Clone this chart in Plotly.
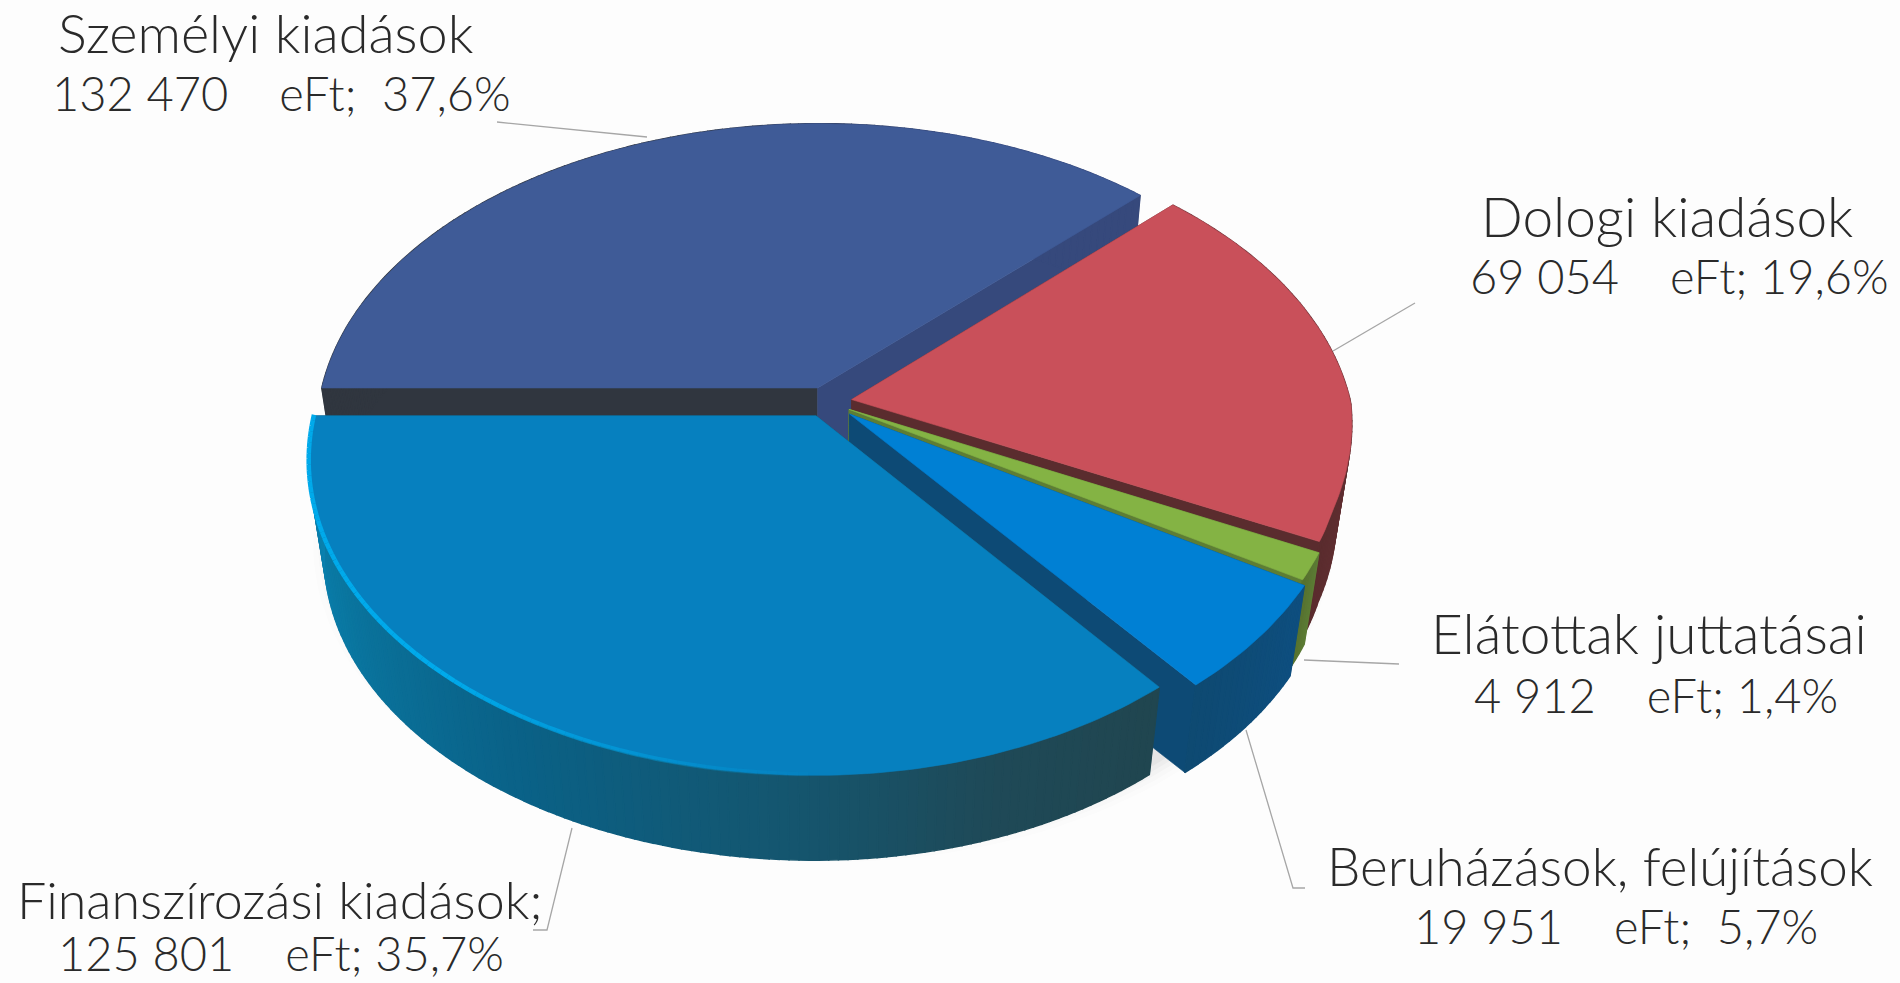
import numpy as np
import plotly.graph_objects as go

# ---- data ----
categories = ["Személyi kiadások", "Dologi kiadások", "Elátottak juttatásai",
              "Beruházások, felújítások", "Finanszírozási kiadások;"]
values = [132470, 69054, 4912, 19951, 125801]
value_labels = ["132 470", "69 054", "4 912", "19 951", "125 801"]
percent_labels = ["37,6%", "19,6%", "1,4%", "5,7%", "35,7%"]
percent_gaps = ["\u00a0\u00a0", "\u00a0", "\u00a0", "\u00a0\u00a0", "\u00a0"]

# ---- styles ----
top_colors = ["#3f5b97", "#c9505a", "#84b344", "#0080d4", "#0680bf"]
cut_colors = [("#36497c", "#30363f"), ("#5a2c2e", "#5a2c2e"), ("#5d7d35", "#5d7d35"),
              ("#0d4a75", "#0d4a75"), ("#1f4a58", "#1f4a58")]
outer_stops = [
    [(0, "#30363f"), (0.5, "#30363f"), (0.8, "#36497c"), (1, "#36497c")],
    [(0, "#7a3a40"), (1, "#5a2c2e")],
    [(0, "#5d7d35"), (1, "#56702f")],
    [(0, "#0f4f80"), (1, "#0e4a72")],
    [(0, "#214650"), (0.16, "#1f4a58"), (0.32, "#15566f"), (0.55, "#0a6288"), (0.8, "#0a78a2"), (1, "#0b84b4")],
]
explode = [0.05, 0.05, 0.05, 0.06, 0.05]

# ---- projection of the tilted disc ----
CX, CY, RX, RY, K = 827, 402, 499, 305, 0.14
DEPTH, SHRINK = 96, 0.97
START = 180.0


def project(u, v, bottom=False):
    u, v = np.asarray(u, float), np.asarray(v, float)
    d = 1 + K * v
    dx, dy = RX * u / d, -RY * v / d
    # the scan is slightly narrower towards the lower right
    dx = dx * (1 - 0.022 * (u > 0) * np.clip(-v * 3, 0, 1))
    if bottom:
        return CX + SHRINK * dx, CY + DEPTH + SHRINK * dy
    return CX + dx, CY + dy


def hex2rgb(h):
    return np.array([int(h[i:i + 2], 16) for i in (1, 3, 5)], float)


def ramp(stops, f):
    for (a, ca), (b, cb) in zip(stops[:-1], stops[1:]):
        if f <= b:
            c = hex2rgb(ca) + (hex2rgb(cb) - hex2rgb(ca)) * (f - a) / max(b - a, 1e-6)
            return "rgb(%d,%d,%d)" % tuple(c)
    return stops[-1][1]


fig = go.Figure()


def poly(x, y, color, lw=0.6):
    fig.add_trace(go.Scatter(x=list(x), y=list(y), mode="lines", fill="toself", fillcolor=color,
                             line=dict(color=color, width=lw), hoverinfo="skip", showlegend=False))


# soft shadow under the pie
th = np.radians(np.linspace(0, 360, 181))
for grow, a in [(1.05, 0.012), (1.04, 0.016), (1.03, 0.022), (1.02, 0.03), (1.01, 0.04)]:
    sx, sy = project(grow * np.cos(th), grow * np.sin(th), bottom=True)
    poly(sx, sy, "rgba(60,60,60,%g)" % a, lw=0)

total = sum(values)
angle = START
for i, val in enumerate(values):
    sweep = 360.0 * val / total
    a0, a1 = angle, angle - sweep          # clockwise on screen
    angle = a1
    mid = np.radians((a0 + a1) / 2)
    ou, ov = explode[i] * np.cos(mid), explode[i] * np.sin(mid)
    t = np.radians(np.linspace(a0, a1, max(int(sweep), 3) + 1))
    u, v = ou + np.cos(t), ov + np.sin(t)

    # cut faces
    ax_t, ay_t = project(ou, ov)
    ax_b, ay_b = project(ou, ov, bottom=True)
    for end, col in ((0, cut_colors[i][1]), (-1, cut_colors[i][0])):
        ex_t, ey_t = project(u[end], v[end])
        ex_b, ey_b = project(u[end], v[end], bottom=True)
        poly([ax_t, ex_t, ex_b, ax_b, ax_t], [ay_t, ey_t, ey_b, ay_b, ay_t], col)

    # outer wall, shaded in strips
    tx, ty = project(u, v)
    bx, by = project(u, v, bottom=True)
    for j in range(len(t) - 1):
        f = (j + 0.5) / (len(t) - 1)
        poly([tx[j], tx[j + 1], bx[j + 1], bx[j], tx[j]],
             [ty[j], ty[j + 1], by[j + 1], by[j], ty[j]], ramp(outer_stops[i], f), lw=1.5)

    # top face
    poly([ax_t, *tx, ax_t], [ay_t, *ty, ay_t], top_colors[i])

    # bright rim of the front slice
    if i == 4:
        n = len(tx)
        rim = int(n * 0.72)
        for j in range(n - rim, n - 1):
            f = (j - (n - rim)) / rim
            a = min(1.0, f * 2.2)
            fig.add_trace(go.Scatter(x=[tx[j], tx[j + 1]], y=[ty[j] - 1, ty[j + 1] - 1], mode="lines",
                                     line=dict(color="rgba(0,170,235,%.2f)" % a, width=4.5),
                                     hoverinfo="skip", showlegend=False))

# leader lines
leaders = [
    ([497, 647], [122, 137]),
    ([1415, 1333], [303, 351]),
    ([1399, 1304], [664, 660]),
    ([1305, 1293, 1246], [888, 888, 730]),
    ([533, 547, 572], [930, 930, 828]),
]
for lx, ly in leaders:
    fig.add_trace(go.Scatter(x=lx, y=ly, mode="lines", line=dict(color="#a6a6a6", width=1.3),
                             hoverinfo="skip", showlegend=False))

# labels: centre x and baseline y of both lines, in category order
label_pos = [((266, 52), (281, 110)), ((1667, 236), (1679, 293)), ((1649, 653), (1656, 712)),
             ((1600, 885), (1616, 943)), ((280, 918), (281, 970))]
name_sizes = [54, 55, 55, 53, 52]
VALUE_SIZE = 47
ann = []
for i, ((x1, y1), (x2, y2)) in enumerate(label_pos):
    line2 = f"{value_labels[i]}\u00a0\u00a0\u00a0\u00a0eFt;{percent_gaps[i]}{percent_labels[i]}"
    for x, y, txt, fs in ((x1, y1, categories[i], name_sizes[i]), (x2, y2, line2, VALUE_SIZE)):
        ann.append(dict(x=x, y=y - 0.37 * fs, text=txt, showarrow=False, xanchor="center", yanchor="middle",
                        font=dict(family="Lato", size=fs, color="#2a2a2a", weight=300)))

fig.update_layout(
    width=1900, height=983, margin=dict(l=0, r=0, t=0, b=0),
    paper_bgcolor="#fdfdfd", plot_bgcolor="#fdfdfd", showlegend=False, annotations=ann,
    xaxis=dict(range=[0, 1900], visible=False, fixedrange=True),
    yaxis=dict(range=[983, 0], visible=False, fixedrange=True),
)
fig.write_html("out.html", post_script="document.body.style.margin='0';document.body.style.overflow='hidden';",
               config={"displayModeBar": False})
